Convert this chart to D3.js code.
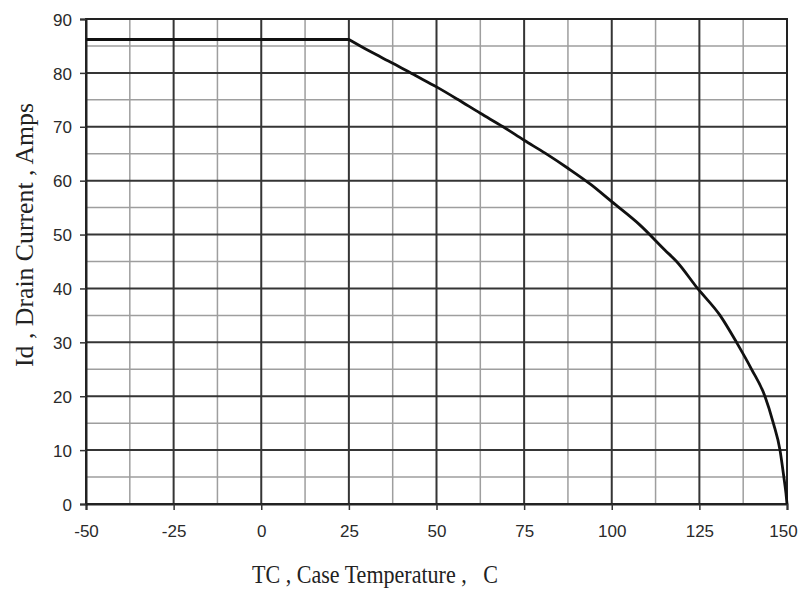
<!DOCTYPE html>
<html><head><meta charset="utf-8">
<script src="https://cdn.jsdelivr.net/npm/d3@7"></script>
<style>body{margin:0;background:#fff}svg{display:block}</style>
</head><body>
<svg id="c" width="799" height="590"></svg>
<script>
const temperature = [-50, 25, 31, 37.5, 44, 50, 56, 62.5, 69, 75, 81, 87.5, 94, 100, 108, 115.2, 118.5, 124.5, 130.9, 135.6, 139.9, 143.7, 146.1, 148, 149.1, 149.7, 150];
const current     = [86.2, 86.2, 84, 81.8, 79.5, 77.4, 75.1, 72.5, 70, 67.5, 65.1, 62.3, 59.3, 56.1, 51.8, 47.1, 45, 40, 35, 30, 25, 20, 15, 10, 5, 2, 0];
const xTicks = [-50, -25, 0, 25, 50, 75, 100, 125, 150];
const yTicks = [0, 10, 20, 30, 40, 50, 60, 70, 80, 90];
const xMinor = [-37.5, -12.5, 12.5, 37.5, 62.5, 87.5, 112.5, 137.5];
const yMinor = [5, 15, 25, 35, 45, 55, 65, 75, 85];
const xTitle = "TC , Case Temperature ,   C";
const yTitle = "Id , Drain Current , Amps";

const svg = d3.select("#c");
const L = 86, R = 787, T = 19, B = 504;
const x = d3.scaleLinear().domain([-50, 150]).range([L, R]);
const y = d3.scaleLinear().domain([0, 90]).range([B, T]);

const g = svg.append("g");
// minor grid
g.selectAll(".vm").data(xMinor).enter().append("line")
  .attr("x1", d => x(d)).attr("x2", d => x(d)).attr("y1", T).attr("y2", B)
  .attr("stroke", "#9e9e9e").attr("stroke-width", 1.5);
g.selectAll(".hm").data(yMinor).enter().append("line")
  .attr("y1", d => y(d)).attr("y2", d => y(d)).attr("x1", L).attr("x2", R)
  .attr("stroke", "#9e9e9e").attr("stroke-width", 1.5);
// major grid
g.selectAll(".vM").data(xTicks).enter().append("line")
  .attr("x1", d => x(d)).attr("x2", d => x(d)).attr("y1", T).attr("y2", B)
  .attr("stroke", "#353535").attr("stroke-width", 2);
g.selectAll(".hM").data(yTicks).enter().append("line")
  .attr("y1", d => y(d)).attr("y2", d => y(d)).attr("x1", L).attr("x2", R)
  .attr("stroke", "#353535").attr("stroke-width", 2);
// border
g.append("rect").attr("x", L).attr("y", T).attr("width", R - L).attr("height", B - T)
  .attr("fill", "none").attr("stroke", "#222").attr("stroke-width", 2);

// axes
const xa = svg.append("g").attr("transform", `translate(0,${B})`)
  .call(d3.axisBottom(x).tickValues(xTicks).tickSize(6).tickPadding(15).tickFormat(d => String(d)));
const ya = svg.append("g").attr("transform", `translate(${L},0)`)
  .call(d3.axisLeft(y).tickValues(yTicks).tickSize(6).tickPadding(8).tickFormat(d => String(d)));
[xa, ya].forEach(a => {
  a.select(".domain").attr("stroke", "#222").attr("stroke-width", 2);
  a.selectAll(".tick line").attr("stroke", "#333").attr("stroke-width", 1.5);
  a.selectAll(".tick text").attr("font-family", "Liberation Sans, Arial, sans-serif")
    .attr("font-size", 17).attr("fill", "#2a2a2a");
});
ya.selectAll(".tick text").attr("dy", "0.36em");
xa.selectAll(".tick text").filter(d => d === 150).attr("dx", -4);

// curve: flat segment then smooth derating
const pts = temperature.map((t, i) => [t, current[i]]);
const smooth = d3.line().x(d => x(d[0])).y(d => y(d[1])).curve(d3.curveMonotoneX);
const dPath = `M${x(pts[0][0])},${y(pts[0][1])}` + smooth(pts.slice(1)).replace(/^M/, "L");
svg.append("path").attr("d", dPath)
  .attr("fill", "none").attr("stroke", "#111").attr("stroke-width", 2.8)
  .attr("stroke-linejoin", "round");

// titles
svg.append("text").attr("x", 252).attr("y", 583)
  .attr("font-family", "Liberation Serif, Times New Roman, serif").attr("font-size", 26)
  .attr("fill", "#222").style("white-space", "pre")
  .attr("textLength", 246).attr("lengthAdjust", "spacingAndGlyphs")
  .text(xTitle);
svg.append("text").attr("transform", "translate(33,235) rotate(-90)").attr("text-anchor", "middle")
  .attr("font-family", "Liberation Serif, Times New Roman, serif").attr("font-size", 26)
  .attr("fill", "#222")
  .attr("textLength", 264).attr("lengthAdjust", "spacingAndGlyphs")
  .text(yTitle);
</script>
</body></html>
